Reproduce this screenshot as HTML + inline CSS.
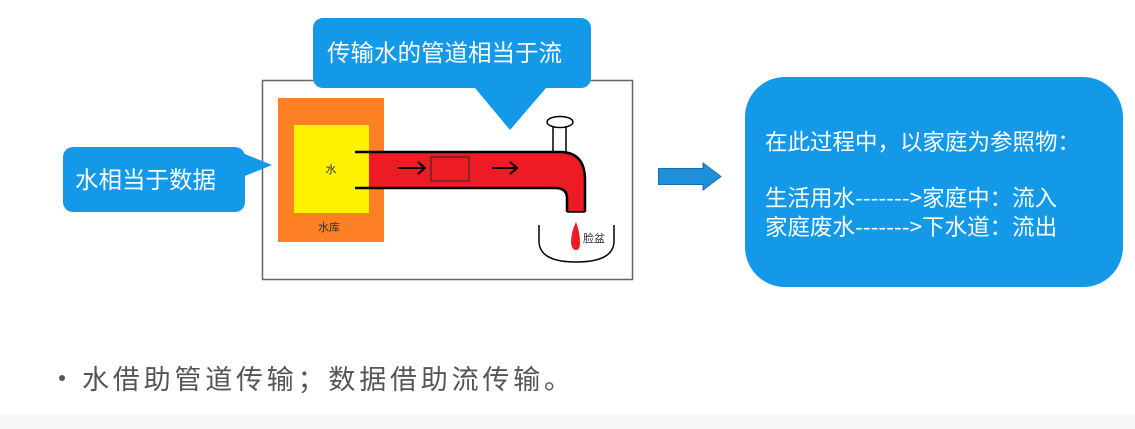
<!DOCTYPE html>
<html><head><meta charset="utf-8"><style>
html,body{margin:0;padding:0;background:#fff;}
body{width:1135px;height:429px;position:relative;overflow:hidden;font-family:"Liberation Sans","Noto Sans CJK SC",sans-serif;}
</style></head><body>
<svg width="1135" height="429" viewBox="0 0 1135 429" style="position:absolute;left:0;top:0">
<rect x="0" y="414" width="1135" height="15" fill="#f8f8f8"/>
<rect x="262.5" y="80.5" width="370" height="199" fill="#fff" stroke="#666" stroke-width="1.5"/>
<rect x="278" y="98" width="106" height="144" fill="#fd8024"/>
<rect x="294" y="125" width="75" height="88" fill="#fff200"/>
<text x="331" y="173" font-size="11" text-anchor="middle" fill="#333" font-family="Noto Sans CJK SC">水</text>
<text x="329" y="231" font-size="11" text-anchor="middle" fill="#333" font-family="Noto Sans CJK SC">水库</text>
<rect x="553" y="122" width="13" height="31" fill="#fff" stroke="#000" stroke-width="1.5"/>
<ellipse cx="560" cy="122" rx="13" ry="5.5" fill="#fff" stroke="#000" stroke-width="1.5"/>
<path d="M369 152 L560 152 Q585 152 585 180 L585 212 L567 212 L567 198 Q567 188 555 188 L369 188 Z" fill="#ed1c24" stroke="none"/>
<path d="M355 152 L560 152 Q585 152 585 180 L585 212 M567 212 L567 198 Q567 188 555 188 L355 188" fill="none" stroke="#000" stroke-width="2.5"/>
<line x1="567" y1="212" x2="585" y2="212" stroke="#000" stroke-width="1.5"/>
<rect x="431" y="157" width="38" height="24" fill="none" stroke="#5a2a2a" stroke-width="1.5"/>
<path d="M398 168 H424 M418 162 L425 168 L418 174" fill="none" stroke="#000" stroke-width="2"/>
<path d="M492 168 H516 M510 162 L517 168 L510 174" fill="none" stroke="#000" stroke-width="2"/>
<path d="M539 225 L539 242 Q540 262 576 262 Q613 262 614 242 L614 225" fill="none" stroke="#000" stroke-width="1.5"/>
<path d="M576 222 Q571 232 571 243 Q572 250 576 250 Q580 250 580 243 Q580 232 576 222 Z" fill="#ed1c24"/>
<text x="583" y="242" font-size="11" fill="#333" font-family="Noto Sans CJK SC">脸盆</text>
<path d="M475 88 L510 130 L546 88 Z" fill="#1399e8"/>
<rect x="313" y="18" width="278" height="70" rx="10" fill="#1399e8"/>
<text x="327" y="61" font-size="23.5" fill="#fff" font-family="Noto Sans CJK SC">传输水的管道相当于流</text>
<path d="M240 152 L272 165 L240 178 Z" fill="#1399e8"/>
<rect x="63" y="147" width="182" height="65" rx="10" fill="#1399e8"/>
<text x="75" y="188" font-size="23.5" fill="#fff" font-family="Noto Sans CJK SC">水相当于数据</text>
<path d="M658.5 168.5 H703 V163 L721 176.5 L703 190 V184.5 H658.5 Z" fill="#1e8fd8" stroke="#1a6fae" stroke-width="1"/>
<rect x="745" y="77" width="378" height="210" rx="40" fill="#1399e8"/>
<g font-size="22.5" fill="#fff" font-family="Noto Sans CJK SC">
<text x="765" y="150">在此过程中，以家庭为参照物：</text>
<text x="765" y="206">生活用水------->家庭中：流入</text>
<text x="765" y="235">家庭废水------->下水道：流出</text>
</g>
<circle cx="62" cy="378" r="3" fill="#555"/>
<text x="82" y="389" font-size="27" fill="#555" font-family="Noto Sans CJK SC" letter-spacing="3.8">水借助管道传输；数据借助流传输。</text>
</svg>
</body></html>
